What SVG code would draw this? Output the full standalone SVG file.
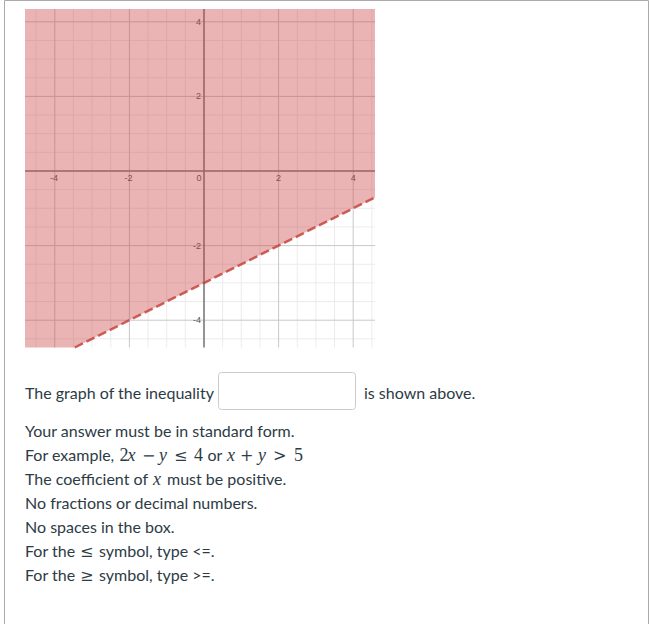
<svg xmlns="http://www.w3.org/2000/svg" width="649" height="624" viewBox="0 0 649 624">
<style>
.minor{stroke:#ececec;stroke-width:1;fill:none}
.major{stroke:#c8c8c8;stroke-width:1;fill:none}
.axis{stroke:#7a7a7a;stroke-width:1.6;fill:none}
.tick{font-family:"Liberation Sans",Arial,sans-serif;font-size:9px;fill:#555}
.txt{font-family:Lato,"Liberation Sans",sans-serif;font-size:16px;fill:#2d3b45}
.m{font-family:"Liberation Serif","DejaVu Serif",serif;font-size:18px;fill:#2d3b45}
.op{font-family:"DejaVu Serif","Liberation Serif",serif;font-size:16px;fill:#2d3b45}
.mi{font-style:italic}
</style>
<rect x="0" y="0" width="649" height="624" fill="#fff"/>
<path d="M4.5,624 V0.5 H648.5 V624" fill="none" stroke="#aaa" stroke-width="1"/>
<g id="graph">
<rect x="25" y="9" width="350" height="338.5" fill="#fff"/>
<path class="minor" d="M36.15,9V347.5M73.45,9V347.5M92.1,9V347.5M110.75,9V347.5M148.05,9V347.5M166.7,9V347.5M185.35,9V347.5M222.65,9V347.5M241.3,9V347.5M259.95,9V347.5M297.25,9V347.5M315.9,9V347.5M334.55,9V347.5M371.85,9V347.5
M25,40.45H375M25,59.1H375M25,77.75H375M25,115.05H375M25,133.7H375M25,152.35H375M25,189.65H375M25,208.3H375M25,226.95H375M25,264.25H375M25,282.9H375M25,301.55H375M25,338.85H375"/>
<path class="major" d="M54.8,9V347.5M129.4,9V347.5M278.6,9V347.5M353.2,9V347.5M25,21.8H375M25,96.4H375M25,245.6H375M25,320.2H375"/>
<path class="axis" d="M204,9V347.5M25,171H375"/>
<g class="tick">
<text x="201" y="24.8" text-anchor="end">4</text>
<text x="201" y="99.4" text-anchor="end">2</text>
<text x="201" y="248.6" text-anchor="end">-2</text>
<text x="201" y="323.2" text-anchor="end">-4</text>
<text x="54" y="181" text-anchor="middle">-4</text>
<text x="128.6" y="181" text-anchor="middle">-2</text>
<text x="199" y="181" text-anchor="middle">0</text>
<text x="278.6" y="181" text-anchor="middle">2</text>
<text x="353.2" y="181" text-anchor="middle">4</text>
</g>
<polygon points="25,9 375,9 375,197.4 74.8,347.5 25,347.5" fill="#c74440" fill-opacity="0.4"/>
</g>
<g id="connectors">
<line x1="74.8" y1="347.5" x2="375" y2="197.4" stroke="#c74440" stroke-opacity="0.85" stroke-width="2.5" stroke-dasharray="9,4"/>
</g>
<g id="question">
<text class="txt" x="25" y="399">The graph of the inequality</text>
<rect x="218.5" y="372.5" width="137" height="37" rx="3" fill="#fff" stroke="#ccc"/>
<text class="txt" x="364" y="399">is shown above.</text>
<text class="txt" x="25" y="437">Your answer must be in standard form.</text>
<text class="txt" x="25" y="461">For example,</text>
<text class="m" y="461"><tspan x="119.5">2</tspan><tspan x="127.5" class="mi">x</tspan></text>
<text class="op" y="461"><tspan x="142">−</tspan></text>
<text class="m mi" x="159" y="461">y</text>
<text class="op" x="174" y="461">≤</text>
<text class="m" x="194" y="461">4</text>
<text class="txt" x="207.5" y="461">or</text>
<text class="m mi" x="227" y="461">x</text>
<text class="op" x="240" y="461">+</text>
<text class="m mi" x="258" y="461">y</text>
<text class="op" x="273" y="461">&gt;</text>
<text class="m" x="294" y="461">5</text>
<text class="txt" x="25" y="485">The coefficient of</text>
<text class="m mi" x="153" y="485">x</text>
<text class="txt" x="167" y="485">must be positive.</text>
<text class="txt" x="25" y="509">No fractions or decimal numbers.</text>
<text class="txt" x="25" y="533">No spaces in the box.</text>
<text class="txt" x="25" y="557">For the</text>
<text class="op" x="80" y="557">≤</text>
<text class="txt" x="99" y="557">symbol, type &lt;=.</text>
<text class="txt" x="25" y="581">For the</text>
<text class="op" x="80" y="581">≥</text>
<text class="txt" x="99" y="581">symbol, type &gt;=.</text>
</g>
</svg>
